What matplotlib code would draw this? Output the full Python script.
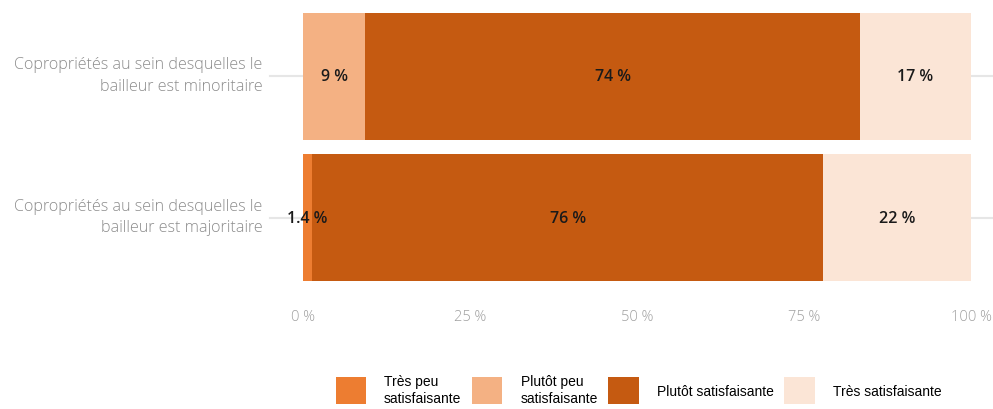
import matplotlib
matplotlib.use("Agg")
import matplotlib.pyplot as plt
import matplotlib.transforms as mtransforms
import numpy as np

categories = ["Copropriétés au sein desquelles le\nbailleur est minoritaire",
              "Copropriétés au sein desquelles le\nbailleur est majoritaire"]
series = ["Très peu\nsatisfaisante", "Plutôt peu\nsatisfaisante",
          "Plutôt satisfaisante", "Très satisfaisante"]
tres_peu = [0.0, 1.4]
plutot_peu = [9.3, 0.0]
plutot_satis = [74.1, 76.5]
tres_satis = [16.6, 22.1]
labels = [["", "9 %", "74 %", "17 %"], ["1.4 %", "", "76 %", "22 %"]]
colors = ["#ED7D31", "#F4B183", "#C55A11", "#FBE5D6"]

fig = plt.figure(figsize=(9.93, 4.10), dpi=100)
ax = fig.add_axes([303 / 993, 1 - 282 / 410, 668 / 993, 268 / 410])

values = np.array([tres_peu, plutot_peu, plutot_satis, tres_satis])
y = np.arange(len(categories))
left = np.zeros(len(categories))

# gridlines at category centres, running past the plot area
for yy in y:
    ax.axhline(yy, xmin=-0.05, xmax=1.04, color="#e6e6e6", lw=1.5,
               clip_on=False, zorder=0)

handles = []
for i, name in enumerate(series):
    bars = ax.barh(y, values[i], left=left, height=0.9, color=colors[i],
                   label=name, zorder=2)
    handles.append(bars)
    for j, b in enumerate(bars):
        txt = labels[j][i]
        if txt:
            ax.text(left[j] + values[i][j] / 2, y[j], txt, ha="center",
                    va="center", fontsize=11.5, fontweight="semibold",
                    color="#1a1a1a", family="Open Sans", zorder=3)
    left = left + values[i]

ax.set_xlim(0, 100)
ax.set_ylim(1.45, -0.45)
ax.set_yticks(y)
ax.set_yticklabels(categories, fontsize=11.6, color="#8c8c8c",
                   family="Open Sans", fontweight="light", linespacing=1.45)
ax.set_xticks([0, 25, 50, 75, 100])
ax.set_xticklabels(["0 %", "25 %", "50 %", "75 %", "100 %"], fontsize=10.5,
                   color="#a0a0a0", family="Open Sans", fontweight="light")
ax.tick_params(length=0)
ax.tick_params(axis="x", pad=20)
ax.tick_params(axis="y", pad=29)
for s in ax.spines.values():
    s.set_visible(False)

# nudge category labels up a little
shift = mtransforms.ScaledTranslation(0, 6 / 100, fig.dpi_scale_trans)
for lab in ax.get_yticklabels():
    lab.set_transform(lab.get_transform() + shift)

fig.legend(handles=handles, loc="lower left", bbox_to_anchor=(323 / 993, -0.02),
           ncol=4, frameon=False, handlelength=2.2, handleheight=2.6,
           handletextpad=1.3, columnspacing=0.75,
           prop={"family": "Liberation Sans", "size": 10})

fig.savefig("out.png", dpi=100)
